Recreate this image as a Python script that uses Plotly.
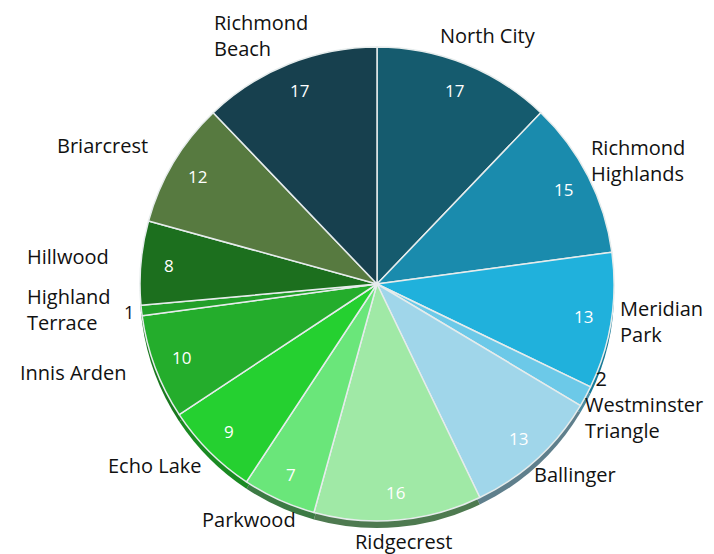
import math
import plotly.graph_objects as go

labels = ["North City", "Richmond Highlands", "Meridian Park", "Westminster Triangle",
          "Ballinger", "Ridgecrest", "Parkwood", "Echo Lake", "Innis Arden",
          "Highland Terrace", "Hillwood", "Briarcrest", "Richmond Beach"]
label_text = ["North City", "Richmond<br>Highlands", "Meridian<br>Park", "Westminster<br>Triangle",
              "Ballinger", "Ridgecrest", "Parkwood", "Echo Lake", "Innis Arden",
              "Highland<br>Terrace", "Hillwood", "Briarcrest", "Richmond<br>Beach"]
values = [17, 15, 13, 2, 13, 16, 7, 9, 10, 1, 8, 12, 17]
colors = ["#155b6e", "#1a8bad", "#20b1dc", "#6cc9e8", "#a0d6ea", "#a0e9a6", "#6ae67a",
          "#25d030", "#24ad2c", "#229f29", "#1c6f1e", "#577a40", "#17404e"]
shadow_colors = ["#0e3e4b", "#125f77", "#167997", "#4a8aa0", "#5f7f8c", "#4e7a50", "#3c7a44",
                 "#1a8a22", "#19781e", "#176e1c", "#134c15", "#3c542c", "#102c36"]

W, H = 714, 554
cx, cy, r = 369, 276, 237
R_VAL = 209
RX_RIGHT, RX_LEFT, RY_LAB, R_SMALL = 250, 272, 250, 250
lab_cy = cy - 4
FS_LAB, FS_VAL, LINE_H = 20, 17, 26
SMALL = 5


def dom(radius, shift=0):
    return dict(x=[(cx - radius) / W, (cx + radius) / W],
                y=[(H - cy - radius - shift) / H, (H - cy + radius - shift) / H])


def px_to_paper(x, y):
    return x / W, 1 - y / H


common = dict(values=values, labels=labels, sort=False, direction="clockwise", rotation=0,
              automargin=False, showlegend=False)

fig = go.Figure()
fig.add_trace(go.Pie(**common, domain=dom(r, 7),
                     marker=dict(colors=shadow_colors, line=dict(width=0)),
                     textinfo="none", hoverinfo="skip"))
fig.add_trace(go.Pie(**common, domain=dom(r),
                     marker=dict(colors=colors, line=dict(color="#e6ecec", width=1.5)),
                     textinfo="none"))

# value and name labels placed along each slice's mid-angle (computed from the data)
total = sum(values)
cum = 0
for lab, v in zip(label_text, values):
    mid = (cum + v / 2) / total * 2 * math.pi
    cum += v
    s, c = math.sin(mid), math.cos(mid)
    text = lab
    if v >= SMALL:
        px, py = px_to_paper(cx + R_VAL * s, cy - R_VAL * c)
        fig.add_annotation(x=px, y=py, xref="paper", yref="paper", text=str(v), showarrow=False,
                           xanchor="center", yanchor="middle",
                           font=dict(size=FS_VAL, color="white", family="Open Sans"))
    elif s > 0:
        text = f"&nbsp;&nbsp;{v}<br>{lab}"  # value stacked above the label
    else:
        px, py = px_to_paper(cx + R_SMALL * s, cy - R_SMALL * c)
        fig.add_annotation(x=px, y=py, xref="paper", yref="paper", text=str(v), showarrow=False,
                           xanchor="center", yanchor="middle",
                           font=dict(size=FS_LAB - 2, color="#111111", family="Open Sans"))
    lines = text.replace("&nbsp;", " ").split("<br>")
    w = max(len(t) for t in lines) * 0.48 * FS_LAB
    RX = RX_RIGHT if s >= 0 else RX_LEFT
    x = cx + RX * s + s * w / 2
    y = lab_cy - RY_LAB * c - c * LINE_H / 2
    px, py = px_to_paper(x, y)
    fig.add_annotation(x=px, y=py, xref="paper", yref="paper", text=text,
                       showarrow=False, align="left", xanchor="center", yanchor="middle",
                       font=dict(size=FS_LAB, color="#111111", family="Open Sans"))

fig.update_layout(width=W, height=H, margin=dict(l=0, r=0, t=0, b=0, autoexpand=False),
                  paper_bgcolor="white", plot_bgcolor="white")
fig.write_html("out.html")
